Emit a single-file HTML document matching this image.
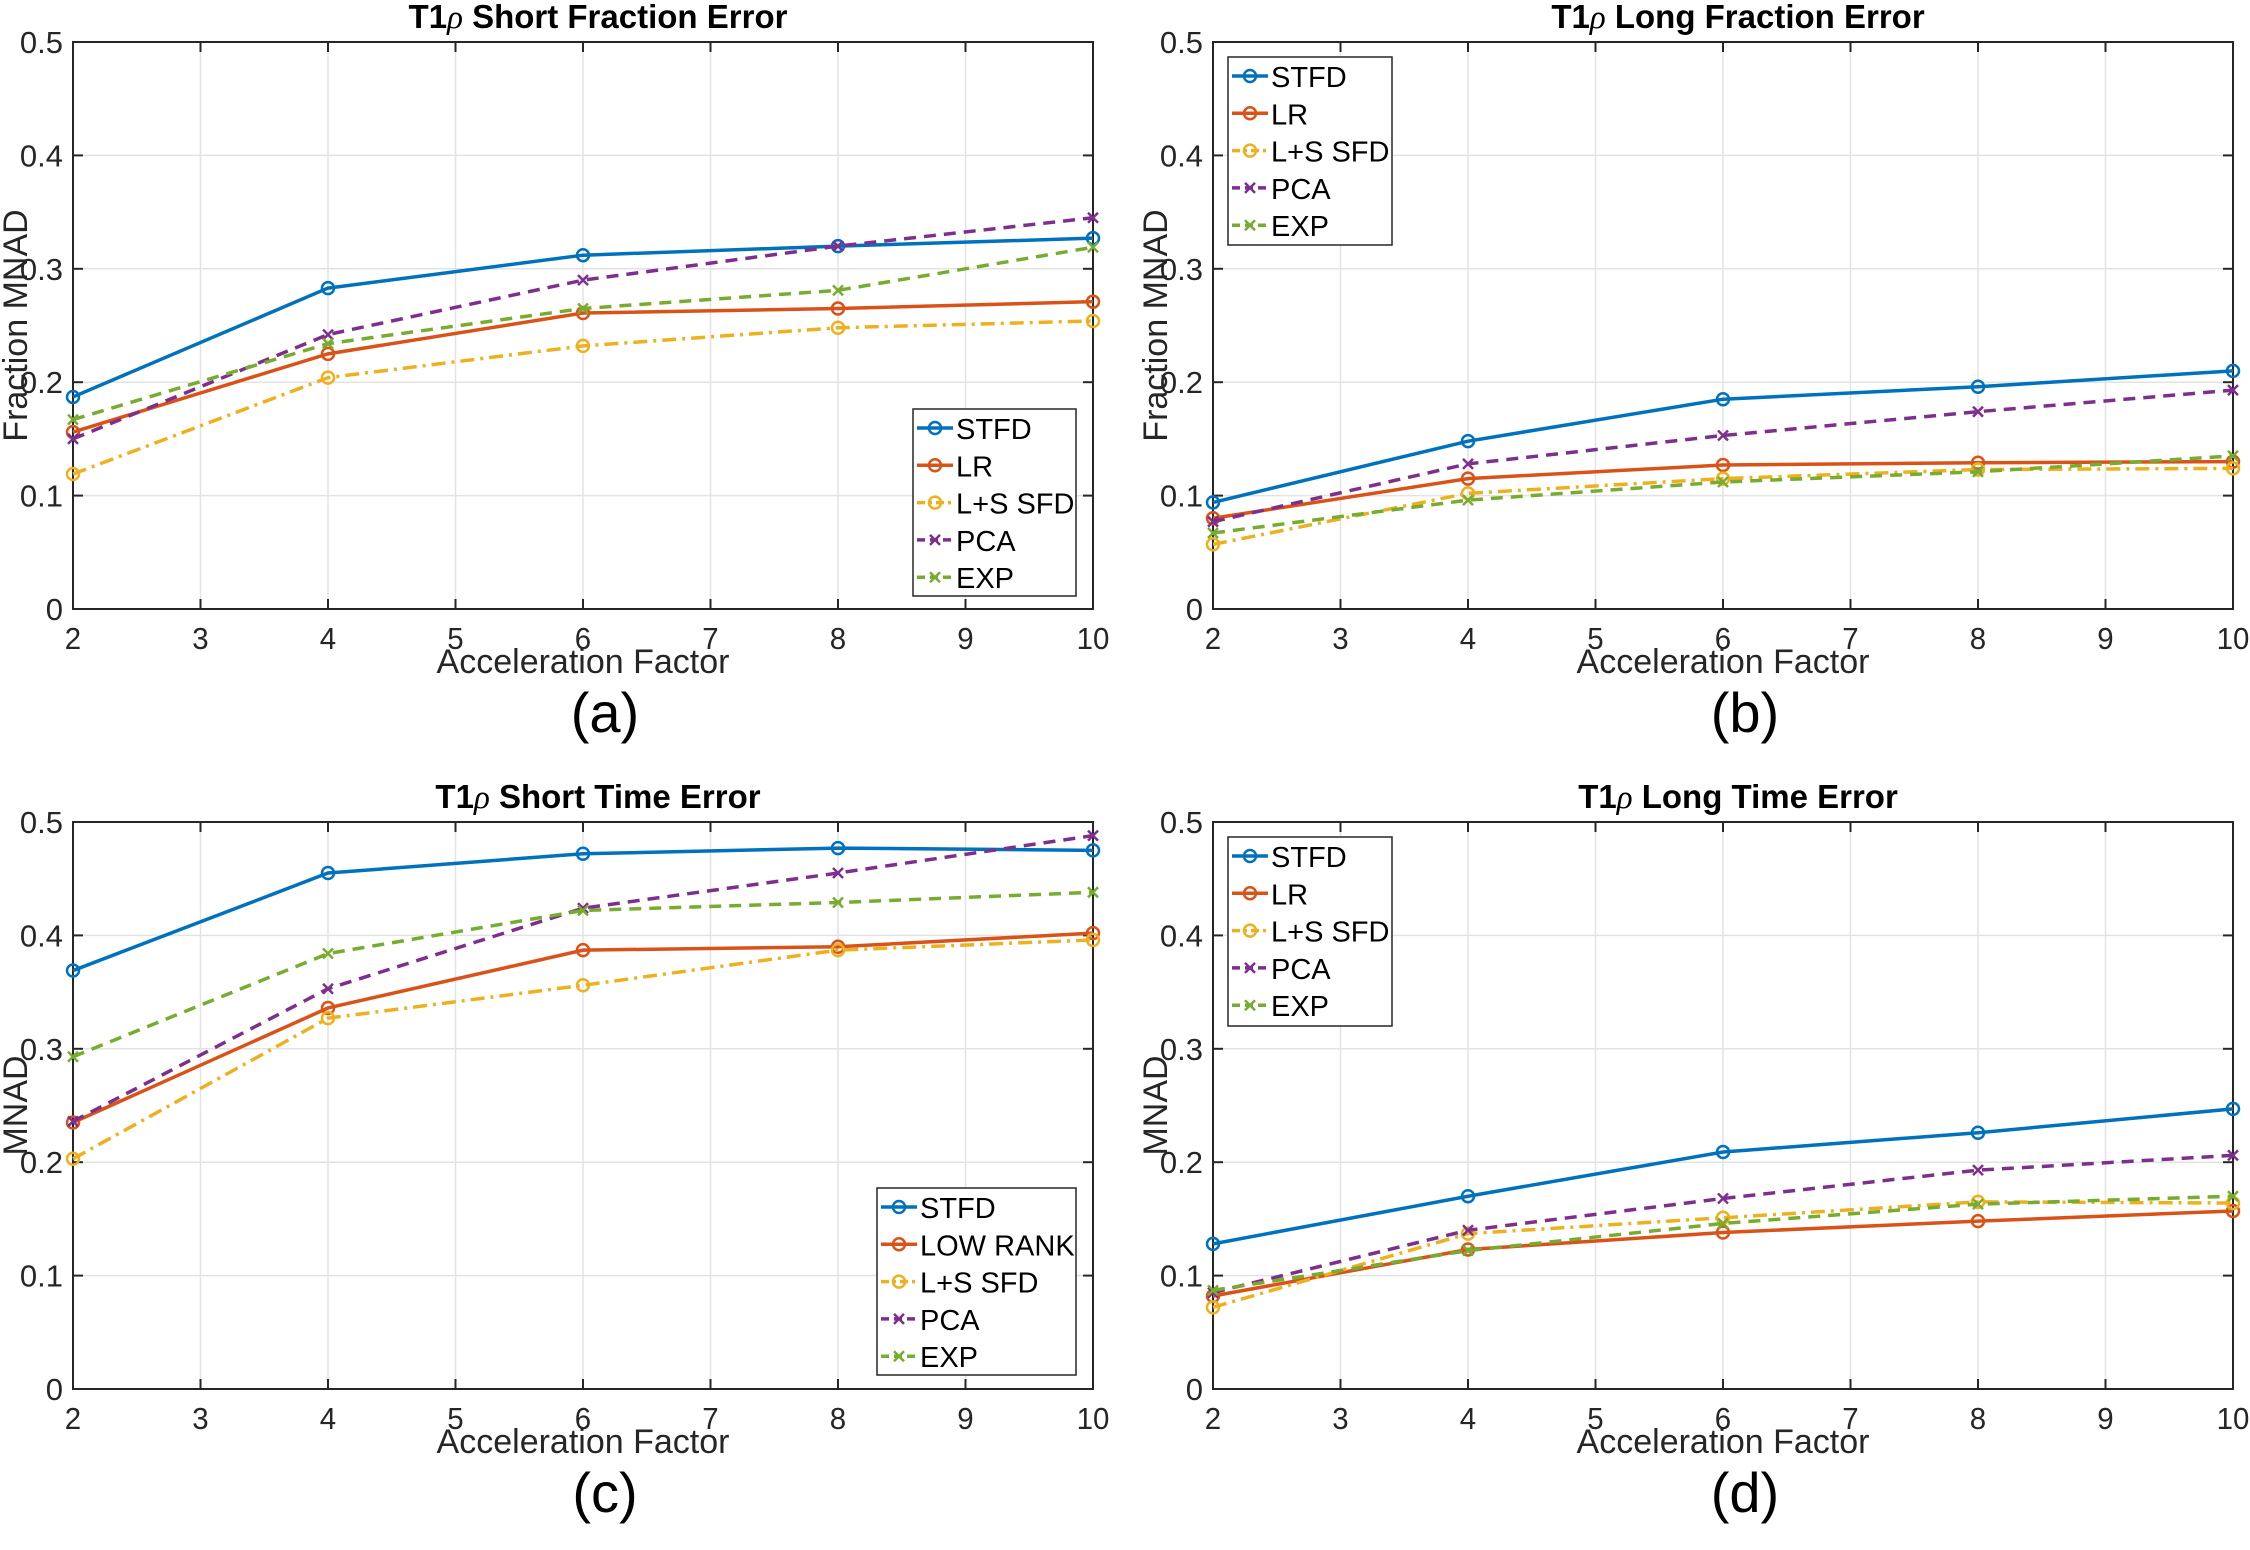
<!DOCTYPE html>
<html><head><meta charset="utf-8"><style>
body{margin:0;background:#fff}
svg{display:block;font-family:"Liberation Sans",sans-serif}
</style></head><body>
<svg id="fig" width="2250" height="1550" viewBox="0 0 2250 1550" xmlns="http://www.w3.org/2000/svg"></svg>
<script>
const xCats=[2,4,6,8,10];
const xTicks=[2,3,4,5,6,7,8,9,10];
const yTicks=[0,0.1,0.2,0.3,0.4,0.5];
const seriesNames=["STFD","LR","L+S SFD","PCA","EXP"];
const seriesNamesC=["STFD","LOW RANK","L+S SFD","PCA","EXP"];
const aSTFD=[0.187,0.283,0.312,0.320,0.327];
const aLR=[0.156,0.225,0.261,0.265,0.271];
const aLS=[0.119,0.204,0.232,0.248,0.254];
const aPCA=[0.150,0.242,0.290,0.320,0.345];
const aEXP=[0.167,0.234,0.265,0.281,0.319];
const bSTFD=[0.094,0.148,0.185,0.196,0.210];
const bLR=[0.080,0.115,0.127,0.129,0.130];
const bLS=[0.057,0.102,0.115,0.123,0.124];
const bPCA=[0.077,0.128,0.153,0.174,0.193];
const bEXP=[0.067,0.096,0.112,0.121,0.135];
const cSTFD=[0.369,0.455,0.472,0.477,0.475];
const cLR=[0.235,0.336,0.387,0.390,0.402];
const cLS=[0.203,0.327,0.356,0.387,0.396];
const cPCA=[0.236,0.353,0.424,0.455,0.488];
const cEXP=[0.293,0.384,0.422,0.429,0.438];
const dSTFD=[0.128,0.170,0.209,0.226,0.247];
const dLR=[0.082,0.123,0.138,0.148,0.157];
const dLS=[0.072,0.137,0.151,0.165,0.164];
const dPCA=[0.085,0.140,0.168,0.193,0.206];
const dEXP=[0.087,0.122,0.146,0.163,0.170];

const NS="http://www.w3.org/2000/svg";
const svg=document.getElementById('fig');
const colors=["#0072BD","#D95319","#EDB120","#7E2F8E","#77AC30"];
const dashes=["","","14 6 3 6","12 8","12 8"];
const markers=["o","o","o","x","x"];
function mk(tag,attrs,parent){const e=document.createElementNS(NS,tag);for(const k in attrs)e.setAttribute(k,attrs[k]);(parent||svg).appendChild(e);return e;}
function txt(s,attrs,parent){const e=mk('text',attrs,parent);e.textContent=s;return e;}
function marker(g,type,x,y,c){
 if(type==="o"){const m=mk('circle',{cx:x,cy:y,r:6,fill:'none',stroke:c,'stroke-width':2.5},g);return m;}
 const m=mk('path',{d:`M${x-5} ${y-5}L${x+5} ${y+5}M${x-5} ${y+5}L${x+5} ${y-5}`,stroke:c,'stroke-width':2.5},g);return m;
}
const panels=[
 {id:'a',l:73,t:42,title:'Short Fraction Error',ylab:'Fraction MNAD',data:[aSTFD,aLR,aLS,aPCA,aEXP],names:seriesNames,leg:{x:913,y:409,w:163,h:187},lab:'(a)'},
 {id:'b',l:1213,t:42,title:'Long Fraction Error',ylab:'Fraction MNAD',data:[bSTFD,bLR,bLS,bPCA,bEXP],names:seriesNames,leg:{x:1228,y:57,w:164,h:188},lab:'(b)'},
 {id:'c',l:73,t:822,title:'Short Time Error',ylab:'MNAD',data:[cSTFD,cLR,cLS,cPCA,cEXP],names:seriesNamesC,leg:{x:877,y:1188,w:199,h:187},lab:'(c)'},
 {id:'d',l:1213,t:822,title:'Long Time Error',ylab:'MNAD',data:[dSTFD,dLR,dLS,dPCA,dEXP],names:seriesNames,leg:{x:1228,y:837,w:164,h:189},lab:'(d)'}
];
const W=1020,H=567;
panels.forEach(p=>{
 const g=mk('g',{});
 
 
 const xs=v=>p.l+(v-2)/8*W;
 const ys=v=>p.t+H-v/0.5*H;
 xTicks.forEach(t=>{const ln=mk('line',{x1:xs(t),x2:xs(t),y1:p.t,y2:p.t+H,stroke:'#e3e3e3','stroke-width':1.5},g);});
 yTicks.forEach(t=>{const ln=mk('line',{x1:p.l,x2:p.l+W,y1:ys(t),y2:ys(t),stroke:'#e3e3e3','stroke-width':1.5},g);});
 const box=mk('rect',{x:p.l,y:p.t,width:W,height:H,fill:'none',stroke:'#262626','stroke-width':2},g);
 
 
 xTicks.forEach(t=>{
  mk('line',{x1:xs(t),x2:xs(t),y1:p.t+H,y2:p.t+H-10,stroke:'#262626','stroke-width':2},g);
  mk('line',{x1:xs(t),x2:xs(t),y1:p.t,y2:p.t+10,stroke:'#262626','stroke-width':2},g);
  const tl=txt(String(t),{x:xs(t),y:p.t+H+40,'font-size':31,'text-anchor':'middle',fill:'#262626',transform:`translate(${xs(t)},0) scale(0.95,1) translate(${-xs(t)},0)`},g);
  
  
 });
 yTicks.forEach(t=>{
  mk('line',{x1:p.l,x2:p.l+10,y1:ys(t),y2:ys(t),stroke:'#262626','stroke-width':2},g);
  mk('line',{x1:p.l+W,x2:p.l+W-10,y1:ys(t),y2:ys(t),stroke:'#262626','stroke-width':2},g);
  const tl=txt(String(t),{x:p.l-10,y:ys(t)+11,'font-size':31,'text-anchor':'end',fill:'#262626'},g);
  
  
 });
 const tt=txt('',{x:p.l+W/2+15,y:p.t-14,'font-size':33,'font-weight':'bold','text-anchor':'middle',fill:'#000'},g);
 tt.innerHTML='T1<tspan font-style="italic" font-weight="normal" font-family="Liberation Serif">ρ</tspan> '+p.title;
 
 
 const xl=txt('Acceleration Factor',{x:p.l+W/2,y:p.t+H+64,'font-size':34,'text-anchor':'middle',fill:'#262626'},g);
 
 
 const yl=txt(p.ylab,{x:0,y:0,'font-size':34,'text-anchor':'middle',fill:'#262626',transform:`translate(${p.l-46},${p.t+H/2}) rotate(-90)`},g);
 
 
 const pl=txt(p.lab,{x:p.l+W/2+22,y:p.t+H+123,'font-size':56,'text-anchor':'middle',fill:'#000'},g);
 
 
 p.data.forEach((vals,i)=>{
  const sg=mk('g',{},g);
  
  
  const pts=vals.map((v,j)=>xs(xCats[j])+','+ys(v)).join(' ');
  const a={points:pts,fill:'none',stroke:colors[i],'stroke-width':3.5};
  if(dashes[i])a['stroke-dasharray']=dashes[i];
  mk('polyline',a,sg);
  vals.forEach((v,j)=>{const m=marker(sg,markers[i],xs(xCats[j]),ys(v),colors[i]);});
 });
 const L=p.leg;
 const lg=mk('g',{},g);
 
 
 mk('rect',{x:L.x,y:L.y,width:L.w,height:L.h,fill:'#fff',stroke:'#262626','stroke-width':1.5},lg);
 p.names.forEach((n,i)=>{
  const yy=L.y+19+i*37.3;
  const eg=mk('g',{},lg);
  
  
  const a={x1:L.x+4,x2:L.x+40,y1:yy,y2:yy,stroke:colors[i],'stroke-width':3.5};
  if(dashes[i])a['stroke-dasharray']=i===2?'8 4 3 4':'8 5';
  mk('line',a,eg);
  marker(eg,markers[i],L.x+22,yy,colors[i]);
  txt(n,{x:L.x+43,y:yy+11,'font-size':29,fill:'#000'},eg);
 });
});
</script>
</body></html>
